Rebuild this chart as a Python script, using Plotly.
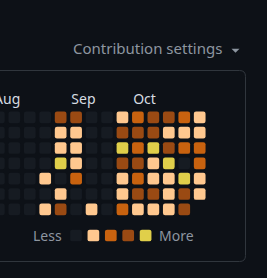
import plotly.graph_objects as go

# ---------------- data ----------------
months = ["Aug", "Sep", "Oct"]
month_cols = [0, 5, 9]
# contribution level per week column, rows Sun..Sat ; -1 = no day
week_levels = [
    [0, 0, 0, 0, 0, 0, 0],
    [0, 0, 0, 0, 0, 0, 0],
    [0, 0, 0, 0, 0, 0, 0],
    [0, 0, 0, 0, 1, 0, 1],
    [3, 1, 1, 4, 0, 1, 3],
    [3, 1, 1, 1, 2, 0, 0],
    [0, 0, 0, 0, 0, 0, 1],
    [0, 0, 0, 0, 0, 0, 0],
    [1, 3, 4, 3, 1, 1, 2],
    [2, 3, 2, 3, 2, 3, 1],
    [3, 3, 4, 1, 1, 3, 1],
    [3, 1, 3, 4, 1, 1, 1],
    [2, 1, 2, 0, 4, 3, 3],
    [1, 1, 2, 2, 1, 1, -1],
]
level_colors = ["#161b22", "#ffc88f", "#c8620f", "#9a4a13", "#e0cf4a"]
legend_levels = [0, 1, 2, 3, 4]
legend_labels = ["Less", "More"]
title_text = "Contribution settings"

# ---------------- layout constants ----------------
W, H = 267, 278
BG = "#0d1117"
BORDER = "#30363d"
MUTED = "#8d96a0"
FONT = "Noto Sans, Open Sans, sans-serif"
STEP_X, STEP_Y = 15.45, 15.33          # px per column / row
COL0_PX, ROW0_PX = -1.15, 117.35         # px centre of column 0 / row 0
CELL = 11.7
RAD = 2.2

x0 = -COL0_PX / STEP_X
y0 = -ROW0_PX / STEP_Y
xr = [x0, x0 + W / STEP_X]
yr = [y0 + H / STEP_Y, y0]


def px_to_x(px):
    return px / STEP_X + x0


def px_to_y(py):
    return py / STEP_Y + y0


def rr_path(cx, cy, hx, hy, rx, ry):
    return (f"M {cx-hx+rx},{cy-hy} L {cx+hx-rx},{cy-hy} Q {cx+hx},{cy-hy} {cx+hx},{cy-hy+ry} "
            f"L {cx+hx},{cy+hy-ry} Q {cx+hx},{cy+hy} {cx+hx-rx},{cy+hy} "
            f"L {cx-hx+rx},{cy+hy} Q {cx-hx},{cy+hy} {cx-hx},{cy+hy-ry} "
            f"L {cx-hx},{cy-hy+ry} Q {cx-hx},{cy-hy} {cx-hx+rx},{cy-hy} Z")


hx, hy = CELL / 2 / STEP_X, CELL / 2 / STEP_Y
rx, ry = RAD / STEP_X, RAD / STEP_Y

shapes = []
xs, ys, cd = [], [], []
for c, col in enumerate(week_levels):
    for r, lv in enumerate(col):
        if lv < 0:
            continue
        xs.append(c)
        ys.append(r)
        cd.append(lv)
        shapes.append(dict(type="path", xref="x", yref="y", path=rr_path(c, r, hx, hy, rx, ry),
                           fillcolor=level_colors[lv], line=dict(width=0), layer="above"))

# legend swatches
LEG_START_PX, LEG_STEP_PX, LEG_Y_PX = 76.0, 17.4, 235.5
for i, lv in enumerate(legend_levels):
    cx = px_to_x(LEG_START_PX + i * LEG_STEP_PX)
    cy = px_to_y(LEG_Y_PX)
    shapes.append(dict(type="path", xref="x", yref="y", path=rr_path(cx, cy, hx, hy, rx, ry),
                       fillcolor=level_colors[lv], line=dict(width=0), layer="above"))


def P(px, py):
    return f"{px / W},{1 - py / H}"


# panel border (rounded, left side off-screen)
L, T, R, B, rad = -20, 70.5, 245.5, 261.5, 6
shapes.append(dict(type="path", xref="paper", yref="paper",
                   path=(f"M {P(L, T)} L {P(R - rad, T)} Q {P(R, T)} {P(R, T + rad)} "
                         f"L {P(R, B - rad)} Q {P(R, B)} {P(R - rad, B)} L {P(L, B)}"),
                   line=dict(color=BORDER, width=1), layer="below"))
# dropdown caret
shapes.append(dict(type="path", xref="paper", yref="paper",
                   path=f"M {P(231.5, 48.8)} L {P(239.5, 48.8)} L {P(235.5, 52.8)} Z",
                   fillcolor=MUTED, line=dict(width=0)))

fig = go.Figure()
fig.add_trace(go.Scatter(x=xs, y=ys, mode="markers", customdata=cd,
                         marker=dict(size=12, opacity=0), hovertemplate="level %{customdata}<extra></extra>",
                         showlegend=False))
# month labels through the axes (left one is clipped at the edge, as in the original)
fig.add_trace(go.Scatter(x=[c - hx + 0.07 for c in month_cols], y=[-1.08] * len(months),
                         mode="text", text=months, textposition="middle right",
                         textfont=dict(family=FONT, size=14, color="#d6dce2"),
                         hoverinfo="skip", showlegend=False, cliponaxis=True))

annotations = []
annotations.append(dict(x=71 / W, y=1 - 48 / H, xref="paper", yref="paper", text=title_text,
                        showarrow=False, xanchor="left", yanchor="middle",
                        font=dict(family=FONT, size=15, color=MUTED)))
annotations.append(dict(x=64 / W, y=1 - LEG_Y_PX / H, xref="paper", yref="paper", text=legend_labels[0],
                        showarrow=False, xanchor="right", yanchor="middle",
                        font=dict(family=FONT, size=14, color=MUTED)))
annotations.append(dict(x=156.5 / W, y=1 - LEG_Y_PX / H, xref="paper", yref="paper", text=legend_labels[1],
                        showarrow=False, xanchor="left", yanchor="middle",
                        font=dict(family=FONT, size=14, color=MUTED)))

fig.update_layout(
    width=W, height=H, margin=dict(l=0, r=0, t=0, b=0),
    paper_bgcolor=BG, plot_bgcolor=BG,
    xaxis=dict(range=xr, visible=False, fixedrange=True),
    yaxis=dict(range=yr, visible=False, fixedrange=True),
    shapes=shapes, annotations=annotations, showlegend=False,
)
fig.write_html("out.html")
